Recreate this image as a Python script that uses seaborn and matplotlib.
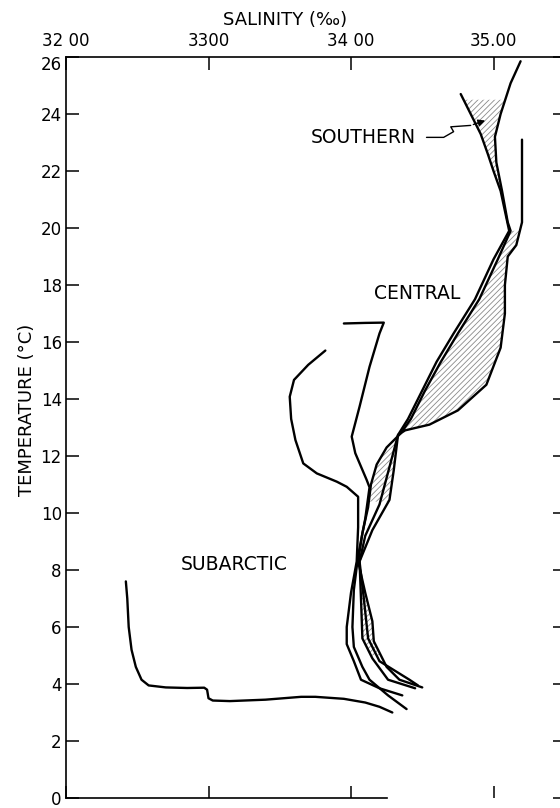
import numpy as np
import matplotlib
matplotlib.use("Agg")
import matplotlib.pyplot as plt
import matplotlib.transforms as mtransforms
import seaborn as sns
import pandas as pd

# ---- T-S profiles (salinity in per mil, temperature in deg C) ----
subarctic_sal = [32.42, 32.43, 32.44, 32.46, 32.49, 32.53, 32.58, 32.70, 32.85, 32.97, 32.99,
                 33.00, 33.03, 33.15, 33.40, 33.65, 33.75, 33.95, 34.10, 34.20, 34.29]
subarctic_temp = [7.6, 7.0, 6.0, 5.2, 4.6, 4.15, 3.95, 3.88, 3.86, 3.87, 3.80,
                  3.50, 3.42, 3.40, 3.45, 3.55, 3.55, 3.48, 3.35, 3.20, 3.00]

transition_a_sal = [33.82, 33.70, 33.60, 33.57, 33.58, 33.61, 33.665, 33.76, 33.90, 33.97, 34.05,
                    34.05, 34.04, 34.00, 33.97, 33.97, 34.02, 34.07, 34.20, 34.36]
transition_a_temp = [15.7, 15.2, 14.67, 14.08, 13.3, 12.56, 11.74, 11.39, 11.1, 10.92, 10.57,
                     9.5, 8.3, 7.2, 6.0, 5.4, 4.8, 4.15, 3.85, 3.6]

transition_b_sal = [33.95, 34.10, 34.23, 34.20, 34.13, 34.06, 34.005, 34.03, 34.11, 34.13, 34.10,
                    34.05, 34.02, 34.01, 34.02, 34.08, 34.13, 34.26, 34.39]
transition_b_temp = [16.65, 16.67, 16.68, 16.3, 15.13, 13.73, 12.68, 12.1, 11.16, 10.9, 9.8,
                     8.5, 7.3, 6.0, 5.3, 4.6, 4.15, 3.6, 3.12]

southern_w_sal = [34.77, 34.84, 34.91, 34.96, 35.00, 35.05, 35.08, 35.11, 35.00, 34.87, 34.72,
                  34.60, 34.50, 34.40, 34.33, 34.30, 34.27, 34.15, 34.06, 34.07, 34.08, 34.15,
                  34.26, 34.45]
southern_w_temp = [24.7, 24.0, 23.3, 22.6, 22.0, 21.3, 20.6, 19.9, 18.9, 17.5, 16.3,
                   15.3, 14.3, 13.3, 12.74, 11.5, 10.46, 9.4, 8.3, 7.0, 5.6, 4.9,
                   4.15, 3.85]

southern_e_sal = [35.19, 35.12, 35.05, 35.01, 35.02, 35.06, 35.10, 35.12, 35.03, 34.90, 34.75,
                  34.63, 34.52, 34.42, 34.35, 34.25, 34.18, 34.14, 34.12, 34.08, 34.05, 34.10,
                  34.15, 34.16, 34.25, 34.34, 34.50]
southern_e_temp = [25.85, 25.08, 24.0, 23.2, 22.3, 21.3, 20.2, 19.9, 18.9, 17.5, 16.3,
                   15.3, 14.3, 13.3, 12.8, 12.3, 11.7, 11.0, 10.2, 9.3, 8.3, 7.2,
                   6.2, 5.5, 4.6, 4.15, 3.88]

central_sal = [35.20, 35.20, 35.20, 35.16, 35.10, 35.08, 35.08, 35.05, 34.95, 34.75, 34.55,
               34.38, 34.33, 34.28, 34.20, 34.10, 34.06, 34.09, 34.12, 34.20, 34.41, 34.47]
central_temp = [23.1, 21.6, 20.2, 19.4, 19.0, 18.0, 17.0, 15.8, 14.5, 13.6, 13.1,
                12.9, 12.74, 11.8, 10.3, 9.2, 8.3, 7.0, 5.6, 4.8, 4.15, 3.95]

sal_ticks = [32, 33, 34, 35]
sal_ticklabels = ["32 00", "3300", "34 00", "35.00"]
temp_ticks = list(range(0, 27, 2))
temp_ticklabels = [str(t) for t in temp_ticks]

region_labels = ["SOUTHERN", "CENTRAL", "SUBARCTIC"]

profiles = pd.concat([
    pd.DataFrame({"salinity": s, "temperature": t, "profile": name, "order": range(len(s))})
    for name, s, t in [
        ("subarctic", subarctic_sal, subarctic_temp),
        ("transition_a", transition_a_sal, transition_a_temp),
        ("transition_b", transition_b_sal, transition_b_temp),
        ("southern_w", southern_w_sal, southern_w_temp),
        ("southern_e", southern_e_sal, southern_e_temp),
        ("central", central_sal, central_temp),
    ]
], ignore_index=True)

sns.set_style("white")
plt.rcParams["font.family"] = ["DejaVu Sans"]
plt.rcParams["text.color"] = "black"
plt.rcParams["xtick.color"] = "black"
plt.rcParams["ytick.color"] = "black"
plt.rcParams["hatch.linewidth"] = 0.6
plt.rcParams["hatch.color"] = "#8a8a8a"

W, H = 560, 808
fig = plt.figure(figsize=(W / 100, H / 100), dpi=100)
ax_left, ax_right, ax_top, ax_bot = 66, 564.75, 57, 798
ax = fig.add_axes([ax_left / W, 1 - ax_bot / H, (ax_right - ax_left) / W, (ax_bot - ax_top) / H])

sns.lineplot(data=profiles, x="salinity", y="temperature", units="profile", estimator=None,
             sort=False, color="black", linewidth=1.7, ax=ax, legend=False)


def shade(s1, t1, s2, t2, tmin, tmax):
    tt = np.linspace(tmin, tmax, 60)
    o1 = np.argsort(t1)
    o2 = np.argsort(t2)
    x1 = np.interp(tt, np.asarray(t1)[o1], np.asarray(s1)[o1])
    x2 = np.interp(tt, np.asarray(t2)[o2], np.asarray(s2)[o2])
    ax.fill_betweenx(tt, x1, x2, facecolor="none", edgecolor="#8a8a8a", hatch="//////", linewidth=0)


# southern envelope
shade(southern_w_sal, southern_w_temp, southern_e_sal, southern_e_temp, 20.0, 24.5)
# central envelope
shade(southern_e_sal, southern_e_temp, central_sal, central_temp, 12.8, 19.9)
# deeper envelopes
shade(southern_w_sal, southern_w_temp, southern_e_sal, southern_e_temp, 10.4, 12.7)
shade(southern_w_sal, southern_w_temp, southern_e_sal, southern_e_temp, 5.0, 7.6)

# axes frame
ax.set_xlim(32, 35.5)
ax.set_ylim(0, 26)
for side in ["left", "top", "bottom"]:
    ax.spines[side].set_linewidth(1.2)
    ax.spines[side].set_color("black")
ax.spines["right"].set_visible(False)
ax.spines["bottom"].set_bounds(32, 34.25)

ax.set_xticks(sal_ticks)
ax.set_xticklabels(sal_ticklabels)
ax.xaxis.set_ticks_position("both")
ax.tick_params(axis="x", which="both", direction="in", length=9, width=1.1,
               top=True, bottom=True, labeltop=True, labelbottom=False,
               labelsize=12, pad=5, colors="black")
ax.set_yticks(temp_ticks)
ax.set_yticklabels(temp_ticklabels)
ax.tick_params(axis="y", which="both", direction="in", length=9, width=1.1,
               left=True, right=True, labelleft=True, labelright=False,
               labelsize=12, pad=3, colors="black")
ax.set_xlabel("")
ax.set_ylabel("")

# the corner label 26 sits just below the salinity label 32 00
fig.canvas.draw()
top_label = ax.get_yticklabels()[-1]
top_label.set_transform(top_label.get_transform()
                        + mtransforms.ScaledTranslation(0, -6 / 100, fig.dpi_scale_trans))

fig.text(285 / W, 1 - 20 / H, "SALINITY (‰)", ha="center", va="center", fontsize=13)
fig.text(27 / W, 1 - 410 / H, "TEMPERATURE (°C)", ha="center", va="center",
         rotation=90, fontsize=13)

# region labels
ax.text(34.084, 23.18, region_labels[0], ha="center", va="center", fontsize=13.5)
ax.text(34.467, 17.71, region_labels[1], ha="center", va="center", fontsize=13.5)
ax.text(33.18, 8.19, region_labels[2], ha="center", va="center", fontsize=13.5)

# wavy leader from the SOUTHERN label to its envelope
lead_s = [34.53, 34.65, 34.72, 34.70, 34.84]
lead_t = [23.18, 23.18, 23.38, 23.55, 23.60]
ax.plot(lead_s, lead_t, color="black", linewidth=1.0)
ax.annotate("", xy=(34.96, 23.80), xytext=(34.84, 23.60),
            arrowprops=dict(arrowstyle="-|>", color="black", lw=1.0, mutation_scale=10))

fig.savefig("out.png", dpi=100)
